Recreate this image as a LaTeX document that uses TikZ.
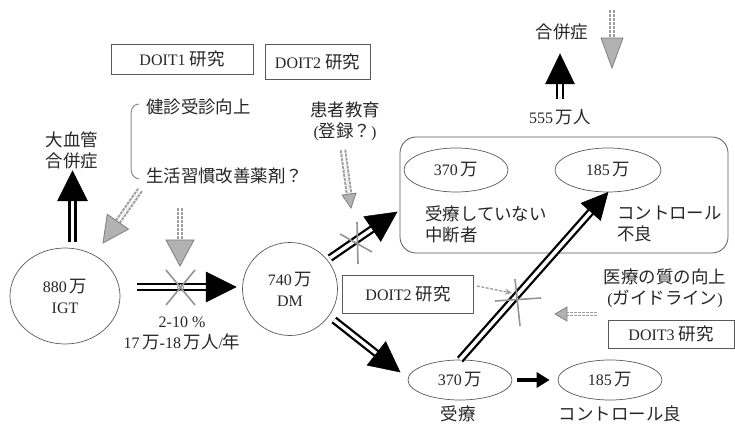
\documentclass[tikz,border=0pt]{standalone}
\usepackage{fontspec}
\setmainfont{Liberation Serif}
\newfontfamily\jp[Scale=1.09]{Noto Sans CJK JP}
\usetikzlibrary{arrows.meta,calc,shapes.geometric}
\newcommand\J[1]{{\jp #1}}
% #1 shaft style, #2 head style, #3 from, #4 to, #5 head length, #6 head width
\newcommand\dblarrow[6]{%
  \coordinate (hb) at ($(#4)!#5!(#3)$);
  \draw[#1] (#3) -- ($(#4)!#5-2pt!(#3)$);
  \filldraw[#2] (#4) -- ($(hb)!#6/2!90:(#4)$) -- ($(hb)!#6/2!-90:(#4)$) -- cycle;
}
\begin{document}
\begin{tikzpicture}[x=1pt,y=-1pt,
  every node/.style={font=\fontsize{16}{21}\selectfont, text=black!85, inner sep=0pt},
  circ/.style={draw=black!65, line width=0.7pt, ellipse, align=center},
  box/.style={draw=black!65, line width=0.8pt, rectangle},
  txt/.style={align=center},
  bshaft/.style={draw=black, double=white, double distance=3.5pt, line width=2.3pt},
  bhead/.style={fill=black, draw=black, line width=0.5pt, line join=miter},
  gshaft/.style={draw=black!38, double=white, double distance=2.5pt, line width=2pt, dash pattern=on 3pt off 1pt},
  ghead/.style={fill=black!30, draw=black!50, line width=0.8pt},
  gx/.style={draw=black!42, line width=1.6pt},
]
\useasboundingbox (0,0) rectangle (735,427);

% boxes with study names
\node[box, minimum width=142pt, minimum height=30pt] (doit1) at (182,59) {DOIT1 \J{研究}};
\node[box, minimum width=105pt, minimum height=35pt] (doit2a) at (317.5,61.5) {DOIT2 \J{研究}};
\node[box, minimum width=131pt, minimum height=38pt] (doit2b) at (408,294) {DOIT2 \J{研究}};
\node[box, minimum width=126pt, minimum height=28pt] (doit3) at (671,334) {DOIT3 \J{研究}};

% texts
\node[anchor=west] (kenshin) at (146,107) {\J{健診受診向上}};
\node[anchor=west] (seikatsu) at (146,176) {\J{生活習慣改善薬剤？}};
\node[txt] (daikekkan) at (72,150) {\J{大血管}\\\J{合併症}};
\node[txt] (kanja) at (345,121) {\J{患者教育}\\(\J{登録？})};
\node (gappei) at (562,32) {\J{合併症}};
\node (n555) at (560,117) {555\,\J{万人}};
\node[txt] (rate) at (182,333) {2-10 \%\\17\,\J{万}-18\,\J{万人}/\J{年}};
\node[txt] (iryo) at (665,288) {\J{医療の質の向上}\\(\J{ガイドライン})};
\node (juryo) at (458,414) {\J{受療}};
\node (ctlgood) at (620,414) {\J{コントロール良}};

% big rounded box
\node[draw=black!65, line width=0.8pt, rounded corners=16pt, minimum width=328pt, minimum height=116pt] (grp) at (564,195) {};
\node[circ, minimum width=104pt, minimum height=44pt] (t370) at (456,170) {370\,\J{万}};
\node[circ, minimum width=106pt, minimum height=44pt] (t185) at (608,170) {185\,\J{万}};
\node[anchor=west, align=left] (mijuryo) at (425,224) {\J{受療していない}\\\J{中断者}};
\node[anchor=west, align=left] (ctlbad) at (617,224) {\J{コントロール}\\\J{不良}};

% circles
\node[circ, minimum width=110pt, minimum height=96pt] (igt) at (65,296) {880\,\J{万}\\IGT};
\node[circ, minimum width=95pt, minimum height=93pt] (dm) at (290,289) {740\,\J{万}\\DM};
\node[circ, minimum width=104pt, minimum height=40pt] (b370) at (460,380) {370\,\J{万}};
\node[circ, minimum width=104pt, minimum height=40pt] (b185) at (610,380) {185\,\J{万}};

% bracket
\draw[black!45, line width=1pt] (139,104) .. controls (131,105) and (131,110) .. (131,118) -- (131,166) .. controls (131,174) and (132,177) .. (139,179);

% coordinates for connector ends
\coordinate (a1s) at (137,287);
\coordinate (a1e) at (236,287);
\coordinate (a2s) at (330,258);
\coordinate (a2e) at (397,212);
\coordinate (a3s) at (334,320);
\coordinate (a3e) at (400,372);
\coordinate (up1s) at (72.5,242);
\coordinate (up1e) at (72.5,171);
\coordinate (up2s) at (560,99);
\coordinate (up2e) at (560,54);
\coordinate (g1s) at (140,190);
\coordinate (g1e) at (103,243);
\coordinate (g2s) at (180,208);
\coordinate (g2e) at (180,266);
\coordinate (g3s) at (343,150);
\coordinate (g3e) at (351,208);
\coordinate (g4s) at (612,10);
\coordinate (g4e) at (612,68);
\coordinate (g5s) at (597,314);
\coordinate (g5e) at (555,314);
\coordinate (g6s) at (477,286);
\coordinate (g6e) at (512,293);

% black double arrows
\dblarrow{bshaft}{bhead}{a1s}{a1e}{30pt}{30pt}
\dblarrow{bshaft}{bhead}{a2s}{a2e}{30pt}{30pt}
\dblarrow{bshaft}{bhead}{a3s}{a3e}{30pt}{30pt}
\dblarrow{bshaft}{bhead}{b370.north}{t185.south}{26pt}{26pt}
\dblarrow{bshaft}{bhead}{up1s}{up1e}{30pt}{30pt}
\dblarrow{bshaft}{bhead}{up2s}{up2e}{30pt}{29pt}
\draw[black, line width=4pt, -{Triangle[length=13pt,width=15pt]}] ([xshift=5pt]b370.east) -- ([xshift=-8pt]b185.west);

% gray arrows
\dblarrow{gshaft}{ghead}{g1s}{g1e}{26pt}{26pt}
\dblarrow{gshaft}{ghead}{g2s}{g2e}{26pt}{28pt}
\dblarrow{gshaft}{ghead}{g3s}{g3e}{14pt}{14pt}
\dblarrow{gshaft}{ghead}{g4s}{g4e}{30pt}{22pt}
\dblarrow{gshaft, double distance=1.5pt, line width=1.3pt}{ghead}{g5s}{g5e}{12pt}{14pt}
\draw[black!38, line width=1.3pt, dash pattern=on 3pt off 1.5pt, -{Stealth[length=7pt,width=6pt]}] (g6s) -- (g6e);

% crosses
\draw[gx] (166,270) -- (195,305);
\draw[gx] (195,270) -- (166,305);
\draw[black!45, line width=0.8pt] (180.5,287.5) circle (3pt);
\draw[gx] (357,222) -- (358,264);
\draw[gx] (340,234) -- (372,252);
\draw[gx] (495,301) -- (541,298);
\draw[gx] (515,279) -- (520,326);
\end{tikzpicture}
\end{document}
